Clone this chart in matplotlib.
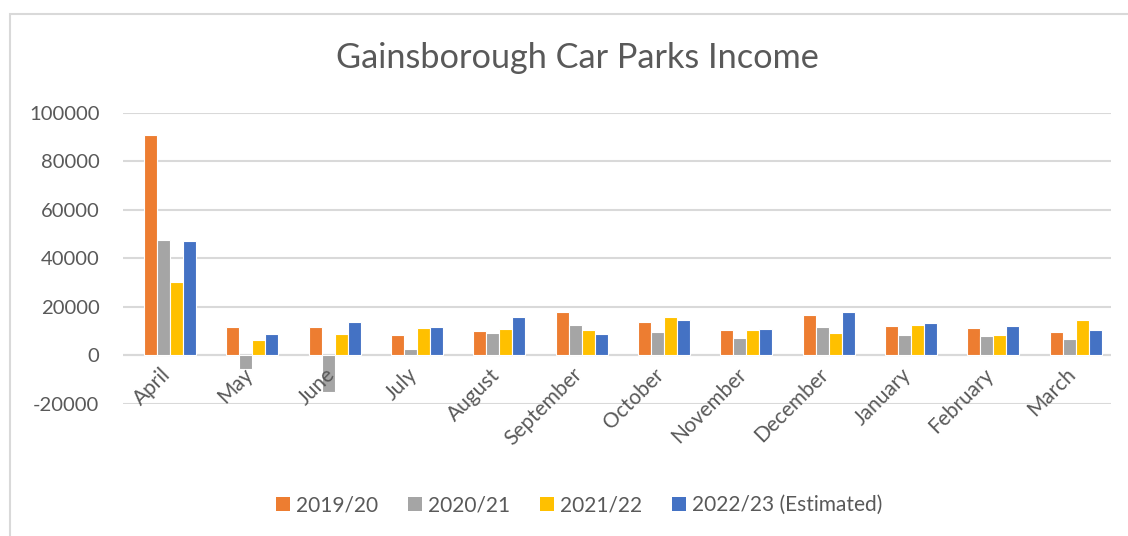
import matplotlib
matplotlib.use("Agg")
import matplotlib.pyplot as plt
import matplotlib.transforms as mtransforms
from matplotlib.patches import Rectangle
import numpy as np

months = ["April", "May", "June", "July", "August", "September", "October",
          "November", "December", "January", "February", "March"]
series_names = ["2019/20", "2020/21", "2021/22", "2022/23 (Estimated)"]
s2019 = [90700, 11800, 11600, 8400, 10200, 17700, 13800, 10500, 16800, 12300, 11300, 9800]
s2020 = [47700, -5600, -14900, 2600, 9100, 12400, 9700, 7300, 11600, 8600, 7900, 6900]
s2021 = [30400, 6400, 8800, 11450, 11000, 10600, 16000, 10600, 9100, 12600, 8300, 14600]
s2022 = [47300, 8800, 13800, 11900, 16000, 8800, 14800, 11000, 17800, 13200, 12000, 10600]
yticks = [-20000, 0, 20000, 40000, 60000, 80000, 100000]

colors = ["#ED7D31", "#A5A5A5", "#FFC000", "#4472C4"]
txt = "#595959"
grid = "#D9D9D9"
plt.rcParams['font.family'] = ['Lato', 'DejaVu Sans']

fig = plt.figure(figsize=(11.28, 5.36), dpi=100)
ax = fig.add_axes([123/1128, 1-404/536, (1111-123)/1128, (404-112.7)/536])

x = np.arange(len(months))
step = 0.158
w = 0.158
for k, (vals, c, name) in enumerate(zip([s2019, s2020, s2021, s2022], colors, series_names)):
    ax.bar(x + (k - 1.5) * step, vals, width=w, color=c, edgecolor="white",
           linewidth=0.8, label=name, zorder=3)

ax.set_xlim(-0.571, 11.43)
ax.set_ylim(-20000, 100000)
ax.set_yticks(yticks)
ax.set_yticklabels([str(v) for v in yticks], color=txt, fontsize=14.6)
ax.tick_params(axis='y', length=0, pad=17)
ax.set_xticks([])
ax.yaxis.grid(True, color=grid, linewidth=1.5, zorder=0)
ax.axhline(0, color=grid, linewidth=1.5, zorder=2)
for s in ax.spines.values():
    s.set_visible(False)

for i, m in enumerate(months):
    t = mtransforms.offset_copy(ax.transData, fig=fig, x=-10, y=-9, units='dots')
    ax.text(i, 0, m, rotation=45, ha='right', va='top', rotation_mode='anchor',
            fontsize=15, color=txt, transform=t)

fig.text(577/1128, 1-58/536, "Gainsborough Car Parks Income", ha='center', va='center',
         fontsize=24.7, color=txt)

leg = fig.legend(loc='center', bbox_to_anchor=(579/1128, 1-505/536), ncol=4, frameon=False,
                 fontsize=15, handlelength=0.67, handleheight=0.67, handletextpad=0.29,
                 columnspacing=1.44, labelcolor=txt)
for h in leg.legend_handles:
    h.set_edgecolor('none')

# chart border
fig.patches.append(Rectangle((10/1128, -0.1), 1.2, 1 - 14/536 + 0.1, transform=fig.transFigure,
                             fill=False, edgecolor=grid, linewidth=1.5))

fig.savefig("out.png", dpi=100)
